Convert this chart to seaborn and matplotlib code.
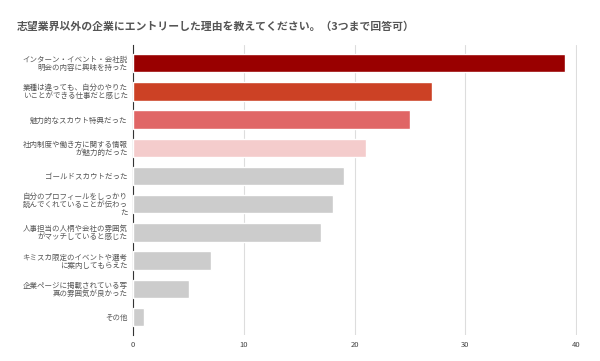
import matplotlib
matplotlib.use("Agg")
import matplotlib.pyplot as plt
import seaborn as sns
import pandas as pd

labels = [
    "インターン・イベント・会社説\n明会の内容に興味を持った",
    "業種は違っても、自分のやりた\nいことができる仕事だと感じた",
    "魅力的なスカウト特典だった",
    "社内制度や働き方に関する情報\nが魅力的だった",
    "ゴールドスカウトだった",
    "自分のプロフィールをしっかり\n読んでくれていることが伝わっ\nた",
    "人事担当の人柄や会社の雰囲気\nがマッチしていると感じた",
    "キミスカ限定のイベントや選考\nに案内してもらえた",
    "企業ページに掲載されている写\n真の雰囲気が良かった",
    "その他",
]
counts = [39, 27, 25, 21, 19, 18, 17, 7, 5, 1]
colors = ["#990000", "#cc4125", "#e06666", "#f4cccc"] + ["#cccccc"] * 6
ticks = [0, 10, 20, 30, 40]

sns.set_theme(style="white")
plt.rcParams['font.family'] = ['Noto Sans CJK JP', 'DejaVu Sans']

df = pd.DataFrame({"label": labels, "count": counts})

fig = plt.figure(figsize=(6, 3.61), dpi=100)
ax = fig.add_axes([0.222, 0.072, 0.74, 0.803])

sns.barplot(data=df, y="label", x="count", hue="label", palette=colors,
            saturation=1, legend=False, width=0.65, ax=ax, zorder=3)

ax.set_xlim(0, 40.1)
ax.set_ylim(9.64, -0.64)
ax.set_xticks(ticks)
ax.set_xlabel("")
ax.set_ylabel("")
ax.grid(axis="x", color="#dddddd", linewidth=0.8, zorder=0)
for s in ["top", "right", "bottom"]:
    ax.spines[s].set_visible(False)
ax.spines["left"].set_color("#333333")
ax.spines["left"].set_linewidth(0.8)
ax.tick_params(axis="x", labelsize=5.5, colors="#444444", length=0, pad=4)
ax.tick_params(axis="y", labelsize=5.4, colors="#555555", length=0, pad=4)
for t in ax.get_yticklabels():
    t.set_horizontalalignment("right")
    t.set_linespacing(1.0)

fig.text(0.028, 0.917, "志望業界以外の企業にエントリーした理由を教えてください。（3つまで回答可）",
         fontsize=7.8, fontweight="bold", color="#555555")

fig.savefig("out.png", dpi=100)
